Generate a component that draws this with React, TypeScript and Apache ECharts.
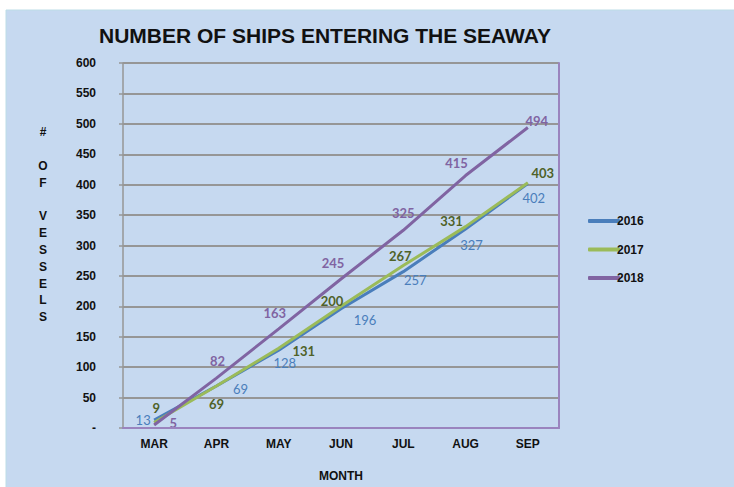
import React, { useEffect, useRef } from "react";
import * as echarts from "echarts";

const months = ["MAR", "APR", "MAY", "JUN", "JUL", "AUG", "SEP"];
const s2016 = [13, 69, 128, 196, 257, 327, 402];
const s2017 = [9, 69, 131, 200, 267, 331, 403];
const s2018 = [5, 82, 163, 245, 325, 415, 494];
const seriesNames = ["2016", "2017", "2018"];

// label offsets (style only)
const off2016 = [[-11, 0], [24, 3], [6, 13], [24, 11], [12, 8], [6, 16], [6, 15]];
const off2017 = [[2, -15], [0, 18], [25, 3], [-9, -5], [-3, -10], [-14, -6], [15, -10]];
const off2018 = [[19, -2], [1, -17], [-4, -16], [-8, -16], [0, -17], [-9, -13], [9, -6]];

const lineColors = ["#4a7ebb", "#9bbb59", "#8064a2"];
const labelColors = ["#4a7ebb", "#4f6228", "#8064a2"];
const labelWeights = ["normal", "bold", "bold"];

export default function App() {
  const ref = useRef<HTMLDivElement>(null);
  useEffect(() => {
    document.body.style.margin = "0";
    const chart = echarts.init(ref.current!, null, { renderer: "svg" });
    const mk = (i: number, vals: number[], offs: number[][]) => ({
      name: seriesNames[i],
      type: "line",
      data: vals.map((v, k) => ({
        value: v,
        label: { offset: offs[k] },
      })),
      symbol: "circle",
      symbolSize: 0.1,
      itemStyle: { color: lineColors[i] },
      lineStyle: { color: lineColors[i], width: 3 },
      label: {
        show: true,
        position: "inside",
        align: "center",
        verticalAlign: "middle",
        color: labelColors[i],
        fontFamily: "Lato",
        fontSize: 13,
        fontWeight: labelWeights[i],
      },
      emphasis: { disabled: true },
    });
    chart.setOption({
      animation: false,
      backgroundColor: "#ffffff",
      graphic: [
        {
          type: "rect",
          z: -10,
          shape: { x: 6, y: 10, width: 730, height: 480 },
          style: { fill: "#c6d9f0", stroke: "#bcdde6", lineWidth: 1 },
        },
        {
          type: "text",
          x: 43,
          y: 124,
          style: {
            text: "#\n\nO\nF\n\nV\nE\nS\nS\nE\nL\nS",
            fill: "#111",
            font: "bold 12px 'Liberation Sans'",
            align: "center",
            lineHeight: 16.8,
          },
        },
      ],
      title: {
        text: "NUMBER OF SHIPS ENTERING THE SEAWAY",
        left: 320,
        top: 20,
        textAlign: "center",
        textStyle: {
          fontFamily: "Liberation Sans",
          fontWeight: "bold",
          fontSize: 21,
          color: "#111",
        },
      },
      legend: {
        orient: "vertical",
        left: 583,
        top: 210,
        itemGap: 16.5,
        itemWidth: 32,
        itemHeight: 4,
        icon: "roundRect",
        data: seriesNames,
        textStyle: {
          fontFamily: "Liberation Sans",
          fontWeight: "bold",
          fontSize: 12,
          color: "#111",
          padding: [0, 0, 0, -8],
        },
      },
      grid: { left: 123, right: 175, top: 63, bottom: 59, outerBoundsMode: "none", containLabel: false },
      xAxis: [
        {
          type: "category",
          data: months,
          boundaryGap: true,
          name: "MONTH",
          nameLocation: "middle",
          nameGap: 42,
          nameTextStyle: {
            fontFamily: "Liberation Sans",
            fontWeight: "bold",
            fontSize: 12,
            color: "#111",
          },
          axisLine: { show: true, lineStyle: { color: "#9a84be", width: 2 } },
          axisTick: { show: false },
          axisLabel: {
            margin: 10,
            fontFamily: "Liberation Sans",
            fontWeight: "bold",
            fontSize: 12,
            color: "#111",
          },
          z: 5,
        },
        {
          type: "category",
          data: months,
          position: "top",
          axisLine: { show: true, lineStyle: { color: "#9a84be", width: 2 } },
          axisTick: { show: false },
          axisLabel: { show: false },
          z: 5,
        },
      ],
      yAxis: [
        {
          type: "value",
          min: 0,
          max: 600,
          interval: 50,
          axisLine: { show: true, lineStyle: { color: "#969696", width: 1.5 } },
          axisTick: { show: true, length: 4, lineStyle: { color: "#969696", width: 1.5 } },
          splitLine: { show: true, lineStyle: { color: "#969696", width: 2 } },
          axisLabel: {
            margin: 27,
            fontFamily: "Liberation Sans",
            fontWeight: "bold",
            fontSize: 12,
            color: "#111",
            formatter: (v: number) => (v === 0 ? "-" : String(v)),
          },
        },
        {
          type: "value",
          min: 0,
          max: 600,
          interval: 50,
          position: "right",
          axisLine: { show: true, lineStyle: { color: "#9a84be", width: 2 } },
          axisTick: { show: false },
          splitLine: { show: false },
          axisLabel: { show: false },
          z: 5,
        },
      ],
      series: [mk(0, s2016, off2016), mk(1, s2017, off2017), mk(2, s2018, off2018)],
    });
    return () => chart.dispose();
  }, []);
  return <div ref={ref} style={{ width: 734, height: 487 }} />;
}
